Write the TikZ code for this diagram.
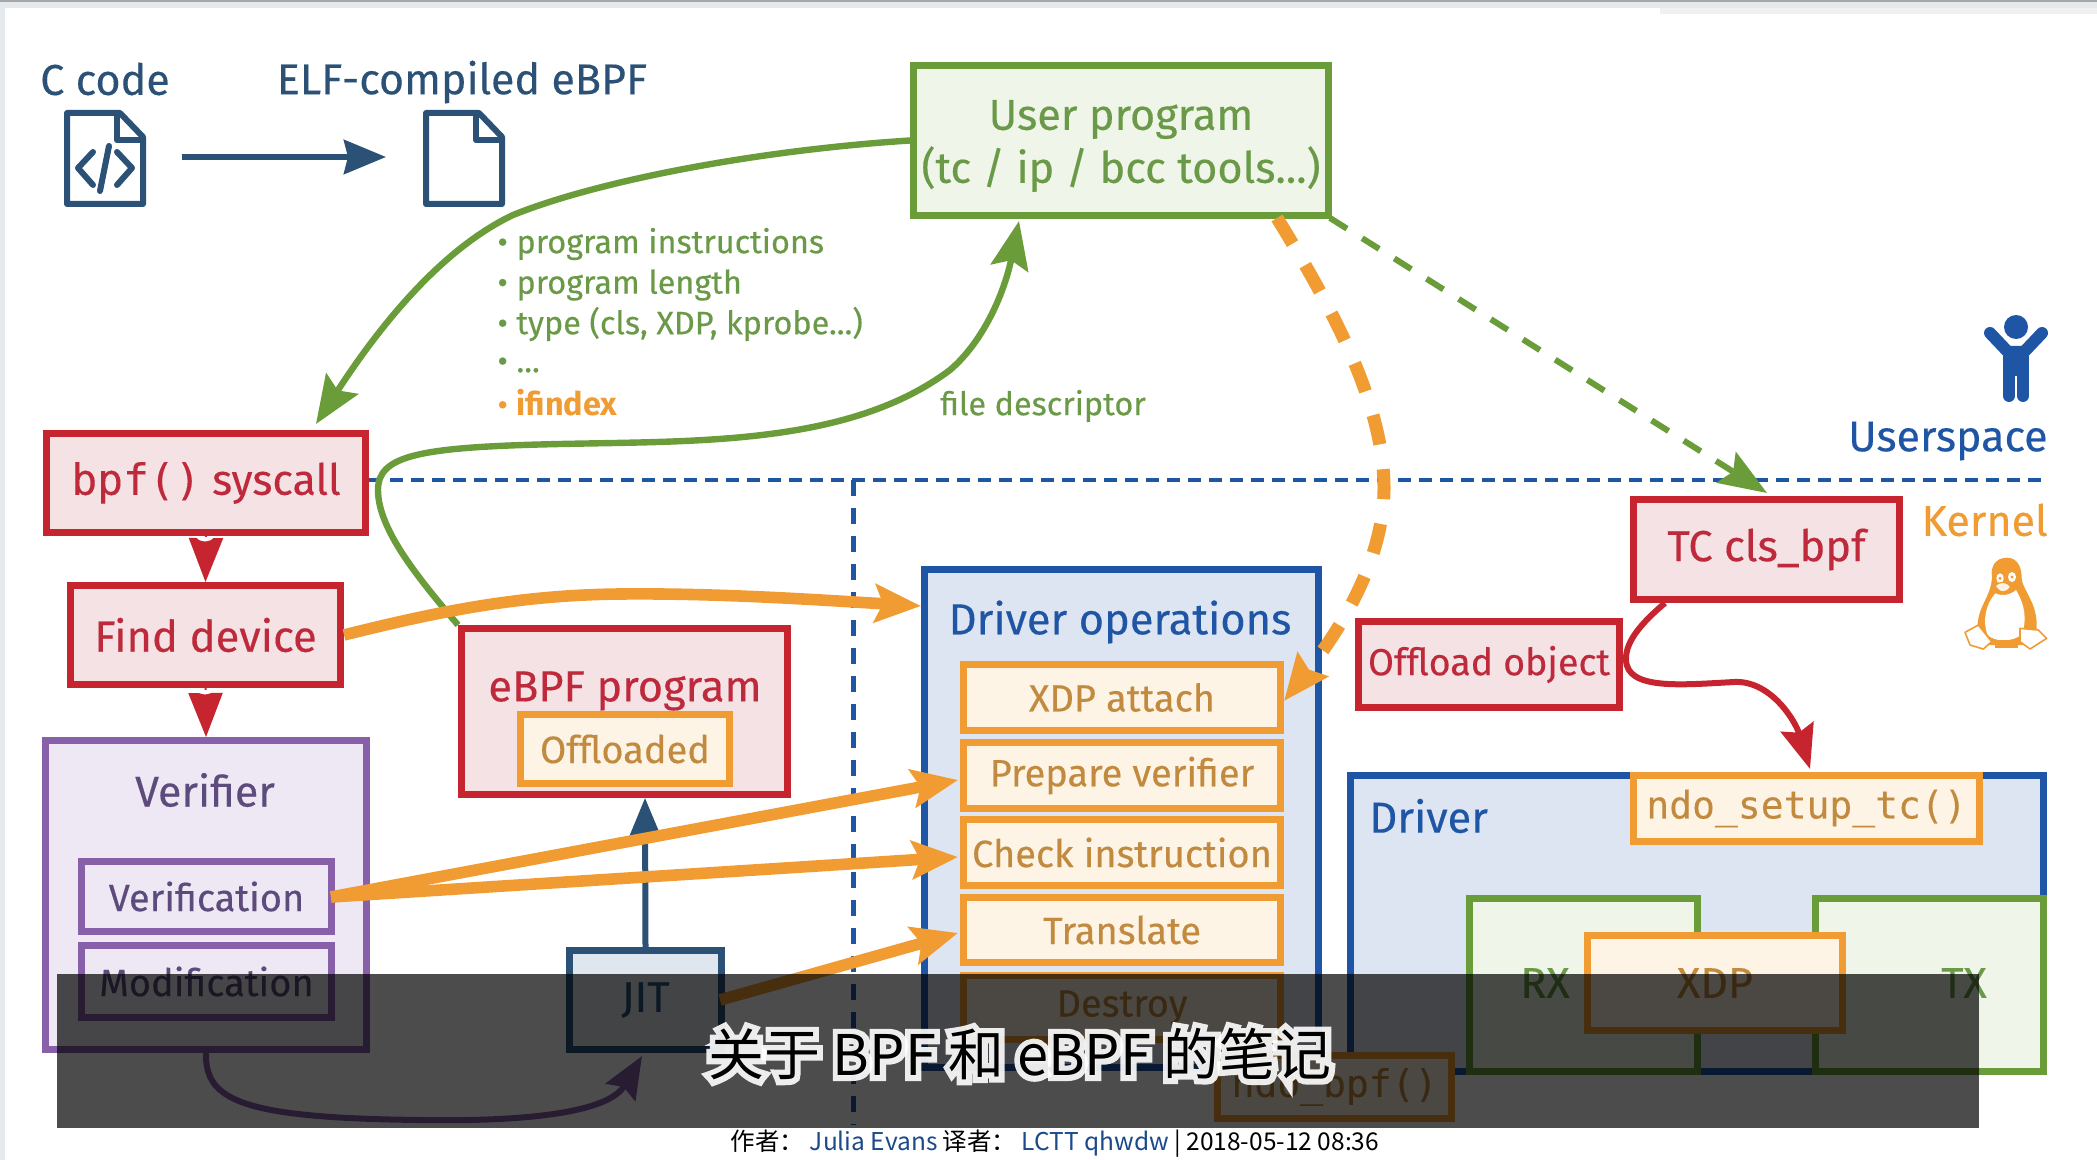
\documentclass[tikz,border=0pt]{standalone}
\usepackage{fontspec}
\usetikzlibrary{arrows.meta,calc}
\setmainfont[FakeBold=0.3,BoldFont={Fira Sans Bold},BoldFeatures={FakeBold=0}]{Fira Sans}
\newfontfamily\monof[FakeBold=0.2]{DejaVu Sans Mono}
\newfontfamily\cjkf{Noto Sans CJK SC}
\newfontfamily\cjkglow[FakeBold=20]{Noto Sans CJK SC}
\definecolor{bluec}{HTML}{1F55A5}
\definecolor{bluef}{HTML}{DEE5F2}
\definecolor{redc}{HTML}{C6252F}
\definecolor{redf}{HTML}{F5E2E4}
\definecolor{redt}{HTML}{BE2A3C}
\definecolor{purc}{HTML}{8860A9}
\definecolor{purf}{HTML}{EDE8F4}
\definecolor{purt}{HTML}{5C4B7C}
\definecolor{orc}{HTML}{F09C33}
\definecolor{orf}{HTML}{FDF4E6}
\definecolor{ort}{HTML}{C28A3E}
\definecolor{grc}{HTML}{6A9C3A}
\definecolor{grf}{HTML}{EFF5E8}
\definecolor{grt}{HTML}{6A9A48}
\definecolor{navy}{HTML}{2B5176}
\definecolor{navyf}{HTML}{DFE6EE}
\definecolor{barc}{HTML}{E4E9EE}
\definecolor{linkc}{HTML}{1B4A8A}
\newcommand{\fs}[1]{\fontsize{#1}{#1}\selectfont}
\newcommand{\bx}[7]{%
 \pgfmathsetmacro{\cxx}{(#3+#5)/2}\pgfmathsetmacro{\cyy}{(#4+#6)/2}%
 \pgfmathsetmacro{\bw}{(#5-#3)*0.5-3.5}\pgfmathsetmacro{\bh}{(#6-#4)*0.5-3.5}%
 \node[#2,minimum width=\bw pt,minimum height=\bh pt] (#1) at (\cxx,\cyy) {#7};}
\tikzset{
 boxbase/.style={draw,line width=3.5pt,inner sep=0pt,align=center},
 redbox/.style={boxbase,draw=redc,fill=redf,text=redt},
 purbox/.style={boxbase,draw=purc,fill=purf,text=purt},
 orbox/.style={boxbase,draw=orc,fill=orf,text=ort},
 bluebox/.style={boxbase,draw=bluec,fill=bluef,text=bluec},
 grbox/.style={boxbase,draw=grc,fill=grf,text=grt},
 navybox/.style={boxbase,draw=navy,fill=navyf,text=navy},
 lbl/.style={inner sep=0pt},
 grarrow/.style={draw=grc,line width=3.2pt,-{Stealth[length=24pt,width=19pt,inset=4pt]}},
 orarrow/.style={draw=orc,line width=5.8pt,-{Stealth[length=23pt,width=19pt,inset=4pt]}},
 redhead/.style={draw=redc,line width=1pt,-{Triangle[length=22pt,width=17pt]}},
 redcurve/.style={draw=redc,line width=3pt,-{Stealth[length=22pt,width=17pt,inset=3pt]}},
 navyarrow/.style={draw=navy,line width=3pt,-{Stealth[length=21pt,width=17pt,inset=2pt]}},
 bluedash/.style={draw=bluec,line width=2.4pt},
 doc/.style={draw=navy,line width=3pt,line join=round,line cap=round},
}
\begin{document}
\begin{tikzpicture}[x=0.5pt,y=-0.5pt]
\useasboundingbox (0,0) rectangle (2097,1160);
\fill[white] (0,0) rectangle (2097,1160);
% page furniture
\fill[barc] (0,0) rectangle (2097,8);
\fill[barc] (0,0) rectangle (5,1160);
\fill[gray!70] (0,0) rectangle (2097,2);
\fill[black!6] (1660,8) rectangle (2097,14);

% dashed boundary
\coordinate (hl) at (369,480); \coordinate (hr) at (2047,480);
\coordinate (vt) at (853.5,480); \coordinate (vb) at (853.5,1125);
\draw[bluedash,dash pattern=on 6.5pt off 4pt] (hl) -- (hr);
\draw[bluedash,dash pattern=on 8pt off 6pt] (vt) -- (vb);

% top labels and file icons
\node[lbl,text=navy,font=\fs{21.5}] (ccode) at (105,79) {C code};
\node[lbl,text=navy,font=\fs{21.5}] (elf) at (462,82) {ELF-compiled eBPF};
\draw[doc] (67,113) -- (120,113) -- (143,137) -- (143,204) -- (67,204) -- cycle;
\draw[doc] (117,113) -- (117,140) -- (143,140);
\draw[doc] (93,152) -- (78,168) -- (93,185);
\draw[doc] (117,152) -- (132,168) -- (117,185);
\draw[doc] (109,146) -- (100,191);
\draw[doc] (426,113) -- (479,113) -- (502,137) -- (502,204) -- (426,204) -- cycle;
\draw[doc] (476,113) -- (476,140) -- (502,140);
\coordinate (a1) at (182,157); \coordinate (a2) at (386,157);
\draw[navyarrow] (a1) -- (a2);

% boxes
\bx{user}{grbox}{910}{62}{1332}{219}{}
\node[lbl,align=center,text=grt,font=\fontsize{21.6}{26.5}\selectfont] (usert) at (1121,146) {User program\\(tc / ip / bcc tools...)};
\bx{bpf}{redbox,font=\fs{21.5}}{43}{430}{369}{536}{{\monof bpf()} syscall}
\bx{find}{redbox,font=\fs{21.8}}{67}{582}{344}{688}{Find device}
\bx{verifier}{purbox}{42}{737}{370}{1053}{}
\node[lbl,text=purt,font=\fs{21.5}] (vt1) at (205,790) {Verifier};
\bx{verif}{purbox,font=\fs{19}}{78}{858}{335}{935}{Verification}
\bx{modif}{purbox,font=\fs{19}}{78}{942}{335}{1021}{Modification}
\bx{ebpf}{redbox}{458}{625}{791}{798}{}
\node[lbl,text=redt,font=\fs{21.7}] (ebt) at (625,691) {eBPF program};
\bx{offl}{orbox,font=\fs{19}}{517}{711}{733}{787}{Offloaded}
\bx{jit}{navybox,font=\fs{21.5}}{566}{947}{725}{1053}{JIT}
\bx{drvop}{bluebox}{921}{566}{1322}{1071}{}
\node[lbl,text=bluec,font=\fs{21.7}] (dot) at (1120,622) {Driver operations};
\bx{xdpa}{orbox,font=\fs{19}}{960}{661}{1284}{734}{XDP attach}
\bx{prep}{orbox,font=\fs{19}}{960}{739}{1284}{812}{Prepare verifier}
\bx{chk}{orbox,font=\fs{19}}{960}{816}{1284}{889}{Check instruction}
\bx{trans}{orbox,font=\fs{19}}{960}{894}{1284}{966}{Translate}
\bx{destroy}{orbox,font=\fs{19}}{960}{972}{1284}{1043}{Destroy}
\bx{tc}{redbox,font=\fs{21.7}}{1630}{496}{1903}{603}{TC cls\_bpf}
\bx{offo}{redbox,font=\fs{18.8}}{1355}{618}{1623}{711}{Offload object}
\bx{driver}{bluebox}{1347}{772}{2047}{1075}{}
\node[lbl,text=bluec,font=\fs{21.7},anchor=west] (drt) at (1369,816) {Driver};
\bx{setup}{orbox,font=\monof\fs{19}}{1630}{772}{1983}{845}{ndo\_setup\_tc()}
\bx{rx}{grbox}{1466}{895}{1701}{1075}{}
\bx{tx}{grbox}{1812}{895}{2047}{1075}{}
\node[lbl,text=grt,font=\fs{21.5}] (rxt) at (1545,983) {RX};
\node[lbl,text=grt,font=\fs{21.5}] (txt) at (1964,983) {TX};
\bx{xdp}{orbox,font=\fs{21.5}}{1584}{932}{1846}{1034}{XDP}
\bx{bpfn}{orbox,font=\monof\fs{19}}{1214}{1052}{1455}{1122}{ndo\_bpf()}

% bullets
\node[lbl,anchor=west,text=grt,font=\fs{16.2}] (b1) at (497,244) {• program instructions};
\node[lbl,anchor=west,text=grt,font=\fs{16.2}] (b2) at (497,285) {• program length};
\node[lbl,anchor=west,text=grt,font=\fs{16.2}] (b3) at (497,324) {• type (cls, XDP, kprobe...)};
\node[lbl,anchor=west,text=grt,font=\fs{16.2}] (b4) at (497,365) {• ...};
\node[lbl,anchor=west,text=orc,font=\fs{16.2}] (b5) at (497,403) {• \textbf{ifindex}};
\node[lbl,anchor=west,text=grt,font=\fs{16.2}] (fd) at (940,406) {file descriptor};

% right labels and icons
\node[lbl,anchor=east,text=bluec,font=\fs{21.5}] (us) at (2048,441) {Userspace};
\node[lbl,anchor=east,text=orc,font=\fs{21.5}] (ke) at (2048,520) {Kernel};
\fill[bluec] (2016,327) circle (12);
\draw[bluec,line width=6pt,line cap=round,line join=round] (1990,333) -- (2008,352) -- (2024,352) -- (2042,333);
\fill[bluec] (2003,346) rectangle (2029,376);
\draw[bluec,line width=6pt,line cap=round] (2009,370) -- (2009,396);
\draw[bluec,line width=6pt,line cap=round] (2023,370) -- (2023,396);
\begin{scope}[shift={(1950,545)},x=0.1667pt,y=-0.1667pt]
\fill[orc] (125,85) .. controls (125,50) and (150,38) .. (170,38) .. controls (205,38) and (215,70) .. (215,100) .. controls (215,130) and (260,170) .. (260,240) .. controls (262,270) and (240,290) .. (215,300) -- (120,300) .. controls (95,290) and (75,270) .. (85,220) .. controls (95,170) and (130,140) .. (125,85) -- cycle;
\fill[white] (136,145) .. controls (105,180) and (98,230) .. (112,268) .. controls (130,292) and (190,292) .. (214,268) .. controls (232,230) and (225,180) .. (198,135) .. controls (180,150) and (155,155) .. (136,145) -- cycle;
\fill[white] (150,100) ellipse (11 and 15);
\fill[white] (186,96) ellipse (12 and 15);
\fill[orc] (150,100) circle (5);
\fill[orc] (186,96) circle (5);
\fill[orf,draw=orc,line width=.6pt] (135,122) .. controls (150,108) and (170,108) .. (182,125) .. controls (170,145) and (150,148) .. (135,122) -- cycle;
\fill[orc] (135,285) rectangle (205,310);
\draw[orc,line width=.8pt,fill=white,line join=round] (45,262) -- (85,240) -- (125,290) -- (100,312) -- (60,300) -- cycle;
\draw[orc,line width=.8pt,fill=white,line join=round] (210,250) -- (265,255) -- (290,280) -- (240,312) -- (210,290) -- cycle;
\end{scope}

% connectors
\draw[redhead] (bpf.south) -- (find.north);
\draw[redhead] (find.south) -- (verifier.north);
\fill[white] (196,537) .. controls (200,543) and (210,543) .. (214,537) -- cycle;
\fill[white] (196,690) .. controls (200,696) and (210,696) .. (214,690) -- cycle;
\coordinate (bpfin) at (316,424);
\draw[grarrow] (user.west) .. controls (760,150) and (600,180) .. (513,215) .. controls (450,245) and (390,310) .. (bpfin);
\coordinate (userin) at (1019,221);
\draw[grarrow] (ebpf.north west) .. controls (420,580) and (378,530) .. (378,490) .. controls (378,455) and (420,447) .. (560,444) .. controls (700,441) and (850,445) .. (950,370) .. controls (985,340) and (1005,290) .. (userin);
\coordinate (gs) at (1330,218); \coordinate (ge) at (1767,493);
\draw[draw=grc,line width=3pt,dash pattern=on 10pt off 9pt,-{Stealth[length=24pt,width=18pt,inset=4pt]}] (gs) -- (ge);
\coordinate (jt) at (645,798);
\draw[navyarrow] (jit.north) -- (jt);
\coordinate (pj) at (642,1056);
\draw[draw=purc,line width=3pt,-{Stealth[length=21pt,width=17pt,inset=3pt]}] (verifier.south) .. controls (205,1100) and (240,1118) .. (420,1120) .. controls (540,1122) and (610,1110) .. (pj);
\draw[orarrow] (find.east) .. controls (440,611) and (520,595) .. (620,594) .. controls (720,593) and (820,600) .. (drvop.west |- 0,606);
\coordinate (vs) at (331,897); \coordinate (ps) at (958,780); \coordinate (cs) at (958,857); \coordinate (ts) at (958,933); \coordinate (js) at (720,1000);
\draw[orarrow] (vs) -- (ps);
\draw[orarrow] (vs) -- (cs);
\draw[orarrow] (js) -- (ts);
\coordinate (os) at (1277,218); \coordinate (oe) at (1284,701);
\draw[draw=orc,line width=6.5pt,dash pattern=on 15pt off 12.5pt,-{Stealth[length=23pt,width=19pt,inset=3pt]}] (os) .. controls (1340,320) and (1384,410) .. (1384,488) .. controls (1384,560) and (1340,630) .. (oe);
\coordinate (rs) at (1665,603); \coordinate (re) at (1810,769);
\draw[redcurve] (rs) .. controls (1645,620) and (1625,640) .. (1626,660) .. controls (1627,690) and (1680,685) .. (1734,682) .. controls (1770,680) and (1795,720) .. (re);

% caption band
\fill[black,opacity=.7] (57,974) rectangle (1979,1128);
\node[lbl,text=white,opacity=.9,font=\cjkglow\fs{28}] (titleglow) at (1020,1054) {关于 BPF 和 eBPF 的笔记};
\node[lbl,text=black,font=\cjkf\fs{28}] (title) at (1020,1054) {关于 BPF 和 eBPF 的笔记};
\node[lbl,text=black,font=\cjkf\fs{12.25}] (foot) at (1055,1144) {作者： \textcolor{linkc}{Julia Evans} 译者： \textcolor{linkc}{LCTT qhwdw} | 2018-05-12 08:36};
\end{tikzpicture}
\end{document}
